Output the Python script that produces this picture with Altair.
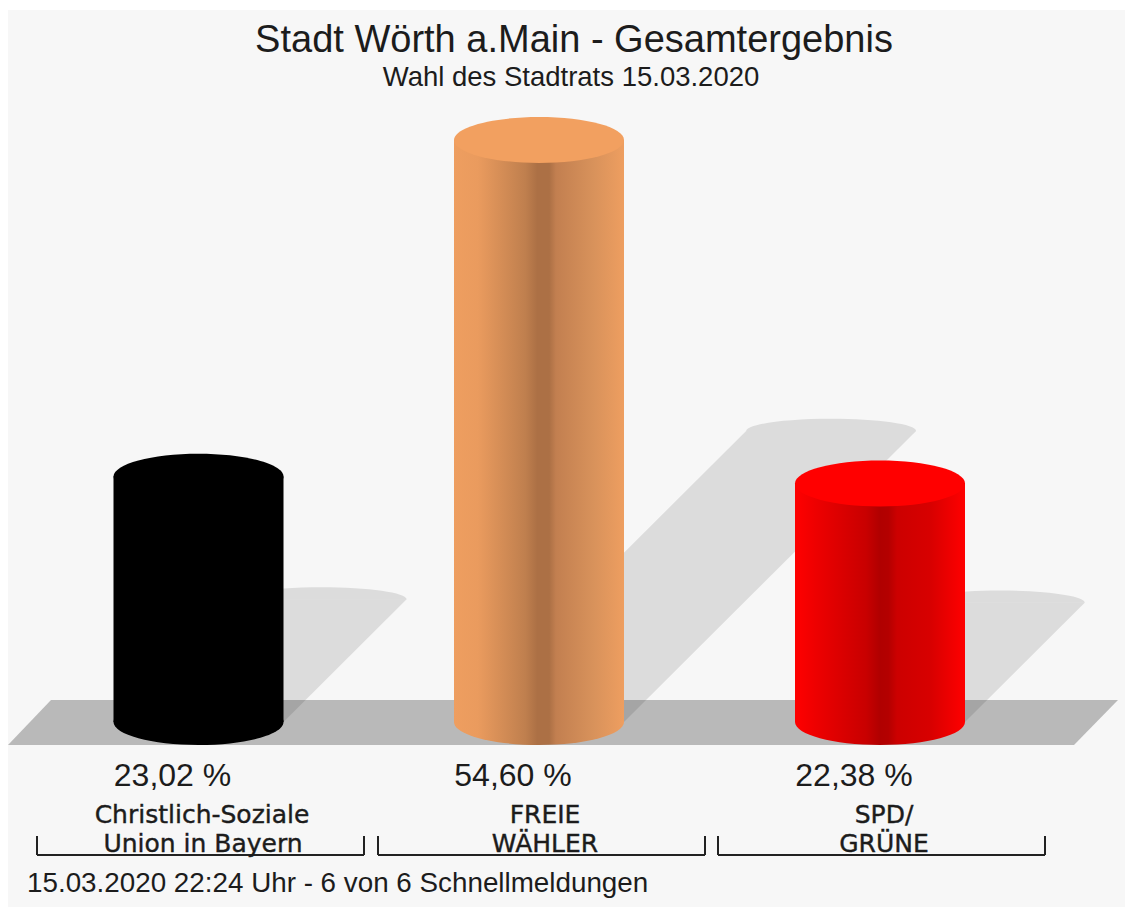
import altair as alt
import pandas as pd

# --- chart values
parties_line1 = ["Christlich-Soziale", "FREIE", "SPD/"]
parties_line2 = ["Union in Bayern", "WÄHLER", "GRÜNE"]
shares = [23.02, 54.60, 22.38]
share_labels = ["23,02 %", "54,60 %", "22,38 %"]
centers = [198.5, 539.0, 880.0]
title_text = "Stadt Wörth a.Main - Gesamtergebnis"
subtitle_text = "Wahl des Stadtrats 15.03.2020"
footer_text = "15.03.2020 22:24 Uhr - 6 von 6 Schnellmeldungen"

# --- scales: x in page pixels, y in percent points
W, H = 1117, 899
BASE_PX, PX_PER_PCT = 722.0, 10.66
def py(px):
    return (BASE_PX - px) / PX_PER_PCT

xs = alt.Scale(domain=[8, 8 + W], range=[0, W], nice=False, zero=False)
ys = alt.Scale(domain=[py(907), py(8)], range=[H, 0], nice=False, zero=False)
X = lambda f="x": alt.X(f"{f}:Q", scale=xs, axis=None)
Y = lambda f="y": alt.Y(f"{f}:Q", scale=ys, axis=None)
HALF = 85
FONT = "Liberation Sans"
INK = "#1c1c1c"

ELL = 0.27
def ellipse_path(h, top_only=False):
    k = 0.5523
    up = f"M-1,0 C-1,{-k*h:.4f} {-k:.4f},{-h:.4f} 0,{-h:.4f} C{k:.4f},{-h:.4f} 1,{-k*h:.4f} 1,0 "
    if top_only:
        return up + "Z"
    return up + f"C1,{k*h:.4f} {k:.4f},{h:.4f} 0,{h:.4f} C{-k:.4f},{h:.4f} -1,{k*h:.4f} -1,0 Z"

def grad(stops):
    return alt.Gradient(gradient="linear", x1=0, x2=1, y1=0, y2=0,
                        stops=[alt.GradientStop(offset=o, color=c) for o, c in stops])

body_fill = [
    grad([(0, "#000000"), (1, "#000000")]),
    grad([(0, "#EE9E60"), (0.14, "#EA9B5E"), (0.42, "#BF7F4E"), (0.49, "#AC7045"),
          (0.56, "#AC7045"), (0.6, "#C27F50"), (0.82, "#D8925B"), (1, "#EE9E60")]),
    grad([(0, "#FF0000"), (0.12, "#EE0000"), (0.42, "#C80000"), (0.5, "#B00000"),
          (0.55, "#B40000"), (0.6, "#CC0000"), (0.8, "#D80000"), (1, "#FF0000")]),
]
top_fill = ["#000000", "#F2A060", "#FF0000"]

layers = []

# page background
bg = pd.DataFrame({"x": [8], "x2": [8 + W], "y": [py(10)], "y2": [py(907)]})
layers.append(alt.Chart(bg).mark_rect(fill="#F7F7F7").encode(x=X(), x2="x2:Q", y=Y(), y2="y2:Q"))

# floor
floor = pd.DataFrame({"y": [py(745), py(700)], "x": [8, 51], "x2": [1074, 1118]})
layers.append(alt.Chart(floor).mark_area(fill="#B9B9B9", orient="horizontal", opacity=1)
              .encode(y=Y(), x=X(), x2="x2:Q"))

# cast shadows
for c, v in zip(centers, shares):
    dx = v * 0.5 * 10.7
    sh = pd.DataFrame({"y": [0.0, v * 0.5],
                       "x": [c - HALF, c + dx - HALF],
                       "x2": [c + HALF, c + dx + HALF]})
    layers.append(alt.Chart(sh).mark_area(fill="#000000", opacity=0.105, orient="horizontal")
                  .encode(y=Y(), x=X(), x2="x2:Q"))
    cap = pd.DataFrame({"x": [c + dx], "y": [v * 0.5]})
    layers.append(alt.Chart(cap).mark_point(shape=ellipse_path(0.143, True), size=(2 * HALF) ** 2,
                                            filled=True, fill="#000000", opacity=0.105, strokeWidth=0)
                  .encode(x=X(), y=Y()))

# cylinders
for c, v, f, t in zip(centers, shares, body_fill, top_fill):
    base = pd.DataFrame({"x": [c], "y": [0.0]})
    layers.append(alt.Chart(base).mark_point(shape=ellipse_path(ELL), size=(2 * HALF) ** 2, filled=True,
                                             fill=f, opacity=1, strokeWidth=0)
                  .encode(x=X(), y=Y()))
    body = pd.DataFrame({"x": [c - HALF], "x2": [c + HALF], "y": [v], "y2": [0.0]})
    layers.append(alt.Chart(body).mark_rect(fill=f).encode(x=X(), x2="x2:Q", y=Y(), y2="y2:Q"))
    top = pd.DataFrame({"x": [c], "y": [v]})
    layers.append(alt.Chart(top).mark_point(shape=ellipse_path(ELL), size=(2 * HALF) ** 2, filled=True,
                                            fill=t, opacity=1, strokeWidth=0)
                  .encode(x=X(), y=Y()))

# brackets
left = [37, 378, 718]
right = [364, 705, 1045]
for a, b in zip(left, right):
    h = pd.DataFrame({"x": [a], "x2": [b], "y": [py(855)]})
    layers.append(alt.Chart(h).mark_rule(color="#222222", strokeWidth=2).encode(x=X(), x2="x2:Q", y=Y()))
    for p in (a, b):
        v_ = pd.DataFrame({"x": [p], "y": [py(836)], "y2": [py(855)]})
        layers.append(alt.Chart(v_).mark_rule(color="#222222", strokeWidth=2).encode(x=X(), y=Y(), y2="y2:Q"))

def text(rows, size, align="center", stroke=0.0, font=FONT):
    df = pd.DataFrame(rows, columns=["x", "y", "t"])
    df["y"] = df["y"].map(py)
    return alt.Chart(df).mark_text(font=font, fontSize=size, align=align, baseline="alphabetic",
                                   color=INK, stroke=INK, strokeWidth=stroke).encode(x=X(), y=Y(), text="t:N")

layers.append(text([(574, 52, title_text)], 38))
layers.append(text([(571, 86, subtitle_text)], 27.5))
layers.append(text([(c - 26, 786, s) for c, s in zip(centers, share_labels)], 32))
layers.append(text([(x, 823, s) for x, s in zip([202, 545, 884], parties_line1)], 25, stroke=0.4, font="DejaVu Sans"))
layers.append(text([(x, 852, s) for x, s in zip([203, 545, 884], parties_line2)], 25, stroke=0.4, font="DejaVu Sans"))
layers.append(text([(27, 892, footer_text)], 27.8, align="left"))

chart = alt.layer(*layers).properties(
    width=W, height=H, padding=0, background="white", autosize=alt.AutoSizeParams(type="none")
).configure_view(stroke=None)

chart.save("out.html", embed_options={"renderer": "svg", "actions": False})
